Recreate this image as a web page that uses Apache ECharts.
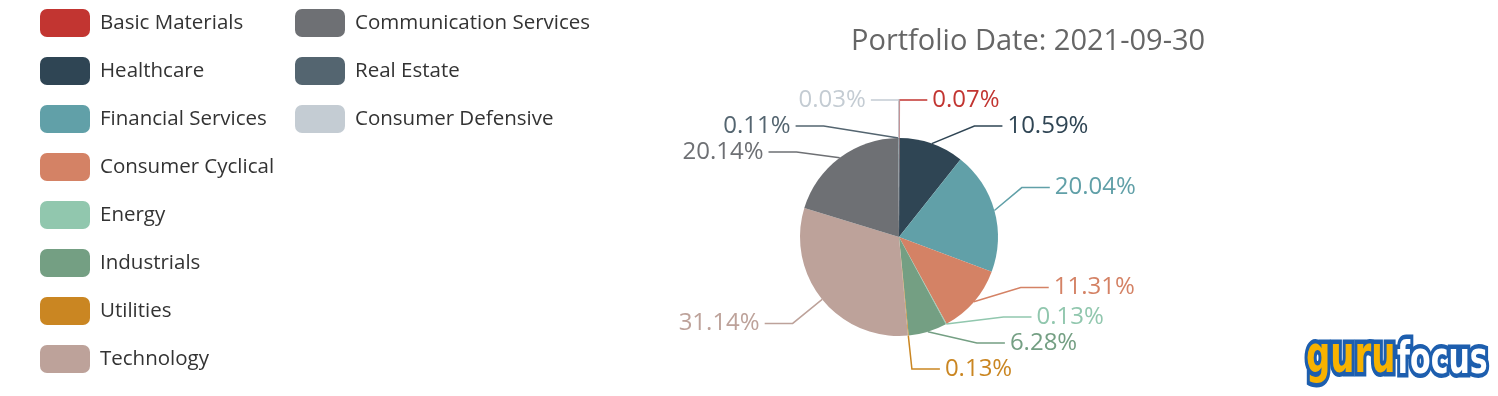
<!DOCTYPE html>
<html>
<head>
<meta charset="utf-8">
<script src="https://cdn.jsdelivr.net/npm/echarts@6/dist/echarts.min.js"></script>
<style>html,body{margin:0;padding:0;background:#fff}#c{width:1498px;height:396px}</style>
</head>
<body>
<div id="c"></div>
<script>
const sectors = ['Basic Materials','Healthcare','Financial Services','Consumer Cyclical','Energy','Industrials','Utilities','Technology','Communication Services','Real Estate','Consumer Defensive'];
const weights = [0.07,10.59,20.04,11.31,0.13,6.28,0.13,31.14,20.14,0.11,0.03];
const colors = ['#c23531','#2f4554','#61a0a8','#d48265','#91c7ae','#749f83','#ca8622','#bda29a','#6e7074','#546570','#c4ccd3'];
const titleText = 'Portfolio Date: 2021-09-30';
const FONT = 'Open Sans';

const chart = echarts.init(document.getElementById('c'));
const legendCommon = {
  orient: 'vertical', icon: 'roundRect', itemWidth: 50, itemHeight: 28, itemGap: 20, top: 9, padding: 0,
  textStyle: {fontSize: 20.5, color: '#333', fontFamily: FONT, padding: [0, 0, 0, 5]}
};
chart.setOption({
  color: colors,
  title: {text: titleText, left: 846, top: 22, textStyle: {fontSize: 29, fontWeight: 'normal', color: '#666', fontFamily: FONT}},
  legend: [
    Object.assign({}, legendCommon, {left: 40, data: sectors.slice(0, 8)}),
    Object.assign({}, legendCommon, {left: 295, data: sectors.slice(8)})
  ],
  graphic: [
    {type: 'group', x: 1306, y: 384, scaleY: 1.5, children: [
      {type: 'text', style: {text: 'guru', x: 0, y: 0, verticalAlign: 'bottom', fill: '#f8b200', stroke: '#1d5eae', lineWidth: 6, font: 'bold 34px "DejaVu Sans"'}}
    ]},
    {type: 'group', x: 1397, y: 384, scaleY: 1.5, children: [
      {type: 'text', style: {text: 'focus', x: 0, y: 0, verticalAlign: 'bottom', fill: '#ffffff', stroke: '#1d5eae', lineWidth: 6, font: 'bold 30px "DejaVu Sans"'}}
    ]}
  ],
  series: [{
    type: 'pie', left: 0, top: 0, right: 0, bottom: 14,
    center: [899, 237], radius: 99, startAngle: 90, clockwise: true,
    animation: false,
    label: {formatter: p => p.value.toFixed(2) + '%', fontSize: 24, fontFamily: FONT},
    labelLine: {length: 38, length2: 28, lineStyle: {width: 1.5}},
    data: sectors.map((s, i) => ({name: s, value: weights[i], label: {color: colors[i]}}))
  }]
});
</script>
</body>
</html>
